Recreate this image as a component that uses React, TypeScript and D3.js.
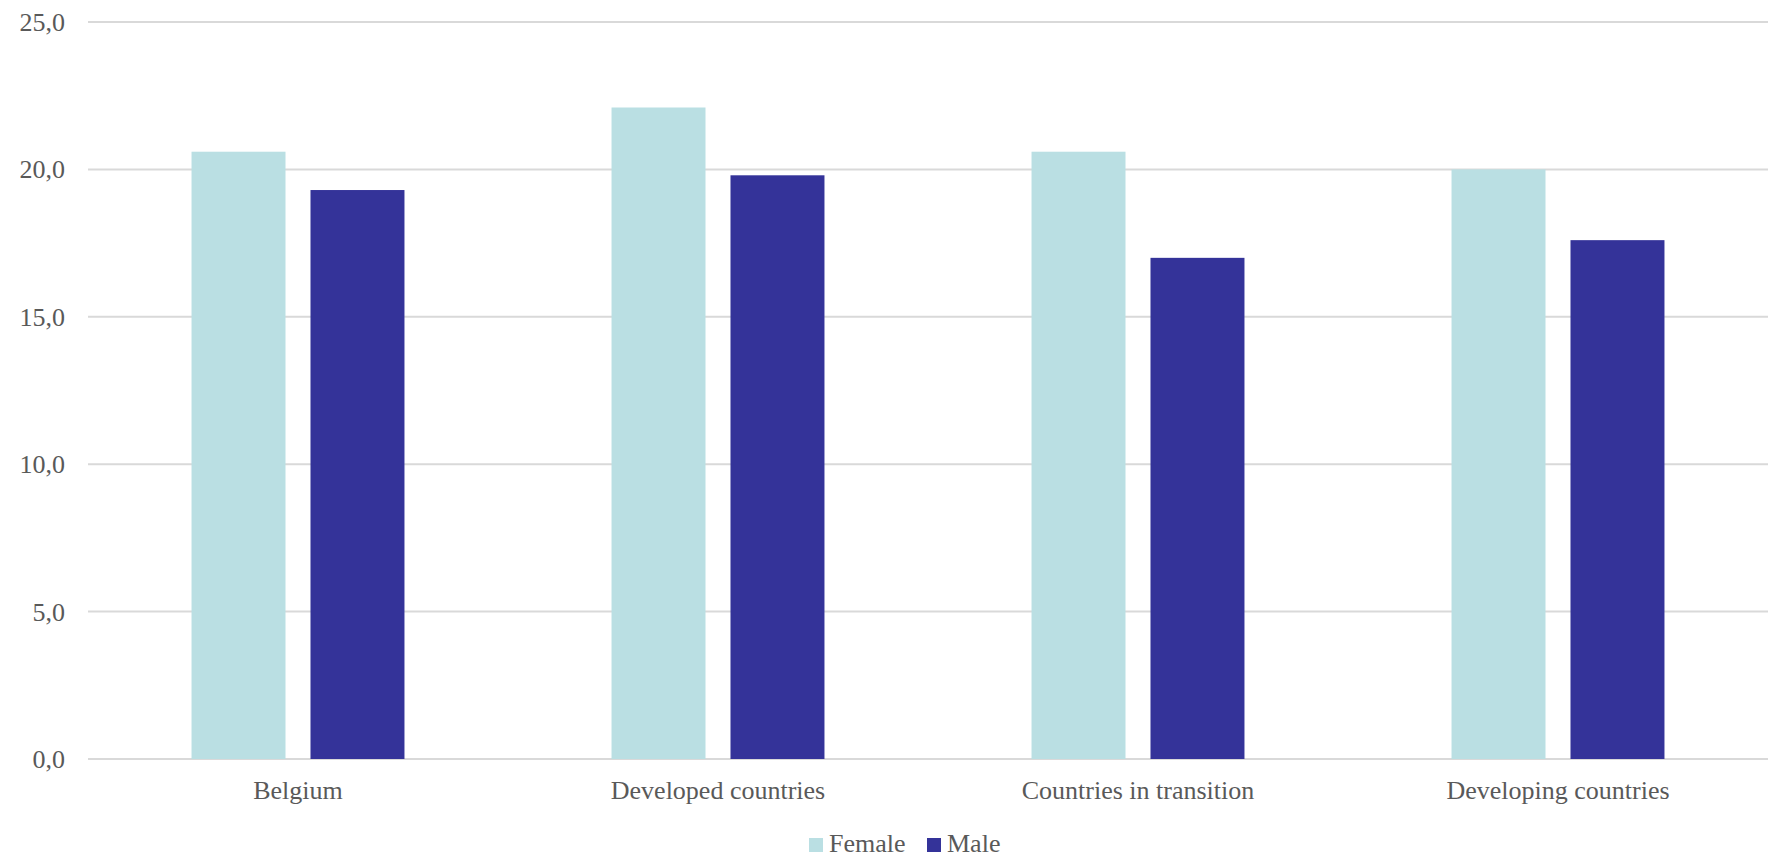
import React from "react";
import * as d3 from "d3";

const categories = ["Belgium", "Developed countries", "Countries in transition", "Developing countries"];
const seriesNames = ["Female", "Male"];
const femaleValues = [20.6, 22.1, 20.6, 20.0];
const maleValues = [19.3, 19.8, 17.0, 17.6];
const yTicks = [0, 5, 10, 15, 20, 25];
const colors = ["#BADFE3", "#343399"];

const W = 1778;
const H = 866;
const left = 88;
const right = 1768;
const top = 22;
const bottom = 759;
const FONT = "'Liberation Serif', 'Times New Roman', serif";
const TEXT = "#595959";

export default function App() {
  const y = d3.scaleLinear().domain([0, 25]).range([bottom, top]);
  const x0 = d3
    .scaleBand<string>()
    .domain(categories)
    .range([left, right])
    .paddingInner(0.493)
    .paddingOuter(0.2465);
  const x1 = d3
    .scaleBand<string>()
    .domain(seriesNames)
    .range([0, x0.bandwidth()])
    .paddingInner(0.21);
  const series = [femaleValues, maleValues];
  const fmt = (v: number) => d3.format(".1f")(v).replace(".", ",");

  return (
    <svg
      width={W}
      height={H}
      style={{ position: "absolute", left: 0, top: 0, display: "block", background: "#fff" }}
    >
      {yTicks.map((t) => (
        <g key={t}>
          <line x1={left} x2={right} y1={y(t)} y2={y(t)} stroke="#D9D9D9" strokeWidth={2} />
          <text
            x={65}
            y={y(t) + 9}
            textAnchor="end"
            fontFamily={FONT}
            fontSize={26}
            fill={TEXT}
          >
            {fmt(t)}
          </text>
        </g>
      ))}
      {categories.map((c, i) => (
        <g key={c} transform={`translate(${x0(c)},0)`}>
          {seriesNames.map((s, j) => (
            <rect
              key={s}
              x={x1(s)}
              y={y(series[j][i])}
              width={x1.bandwidth()}
              height={y(0) - y(series[j][i])}
              fill={colors[j]}
            />
          ))}
        </g>
      ))}
      {categories.map((c) => (
        <text
          key={c}
          x={(x0(c) as number) + x0.bandwidth() / 2}
          y={bottom + 40}
          textAnchor="middle"
          fontFamily={FONT}
          fontSize={26}
          fill={TEXT}
        >
          {c}
        </text>
      ))}
      <g>
        <rect x={809} y={838} width={14} height={14} fill={colors[0]} />
        <text x={829} y={852} fontFamily={FONT} fontSize={26} fill={TEXT}>
          {seriesNames[0]}
        </text>
        <rect x={927} y={838} width={14} height={14} fill={colors[1]} />
        <text x={947} y={852} fontFamily={FONT} fontSize={26} fill={TEXT}>
          {seriesNames[1]}
        </text>
      </g>
    </svg>
  );
}
